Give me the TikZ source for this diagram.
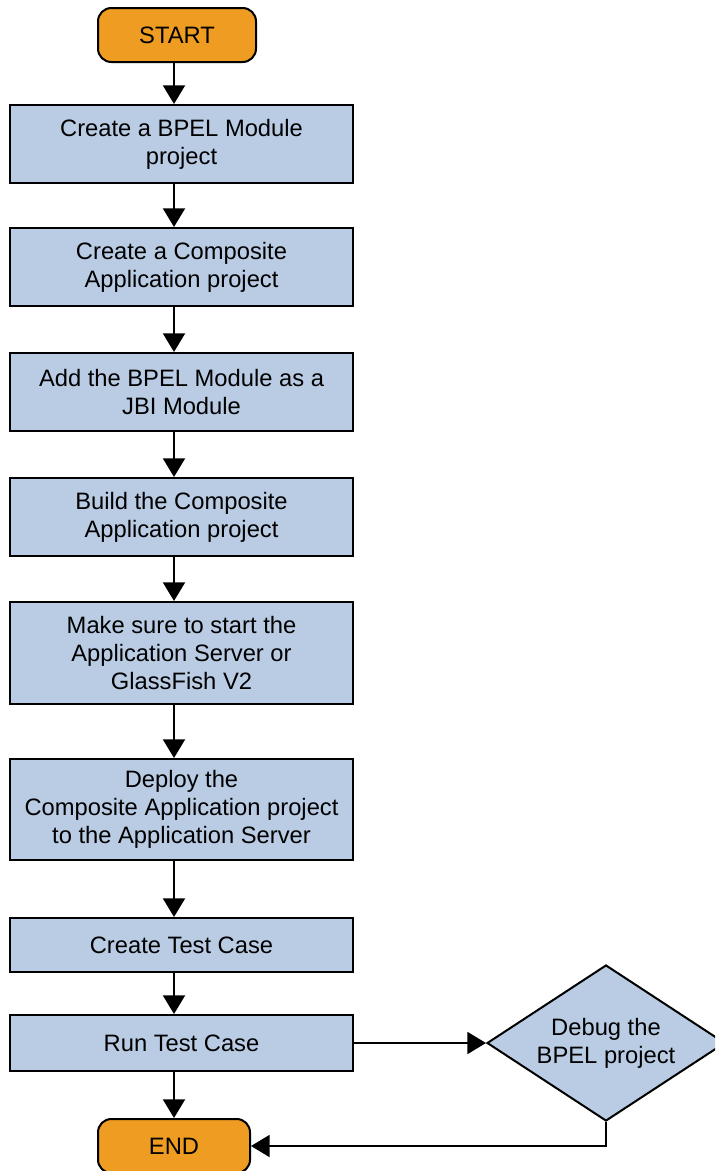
\documentclass[tikz,border=0pt]{standalone}
\usepackage{fontspec}
\setmainfont{Liberation Sans}
\usetikzlibrary{shapes.geometric,arrows.meta}
\definecolor{boxblue}{RGB}{185,204,228}
\definecolor{termorange}{RGB}{238,156,34}
\tikzset{
  stepbox/.style={draw=black, line width=1.5pt, fill=boxblue, minimum width=257.25pt, align=center, inner sep=2pt,
    font=\fontsize{17.8pt}{21pt}\selectfont},
  term/.style={draw=black, line width=1.5pt, fill=termorange, rounded corners=10pt, minimum height=40.5pt,
    font=\fontsize{17.8pt}{21pt}\selectfont},
  decide/.style={diamond, draw=black, line width=1.5pt, fill=boxblue, minimum width=178.5pt, minimum height=117pt,
    aspect=1.526, inner sep=0pt, align=center, font=\fontsize{17.8pt}{21pt}\selectfont},
  flow/.style={line width=1.5pt, -{Triangle[width=16.5pt,length=14pt]}},
}
\begin{document}
\begin{tikzpicture}[x=0.75pt,y=-0.75pt]
\useasboundingbox (0,0) rectangle (715,1171);
\clip (0,0) rectangle (715,1171);
\node[term, minimum width=118.5pt] (start) at (177,35) {START};
\node[stepbox, minimum height=58.5pt] (b1) at (181.5,144) {Create a BPEL Module\\project};
\node[stepbox, minimum height=58.5pt] (b2) at (181.5,267) {Create a Composite\\Application project};
\node[stepbox, minimum height=58.5pt] (b3) at (181.5,392) {Add the BPEL Module as a\\JBI Module};
\node[stepbox, minimum height=58.5pt] (b4) at (181.5,517) {Build the Composite\\Application project};
\node[stepbox, minimum height=76.5pt] (b5) at (181.5,653) {Make sure to start the\\Application Server or\\GlassFish V2};
\node[stepbox, minimum height=75.75pt] (b6) at (181.5,809.5) {Deploy the\\Composite Application project\\to the Application Server};
\node[stepbox, minimum height=40.5pt] (b7) at (181.5,945) {Create Test Case};
\node[stepbox, minimum height=42pt] (b8) at (181.5,1043) {Run Test Case};
\node[term, minimum width=114pt] (end) at (174,1146) {END};
\node[decide] (dbg) at (606,1043) {Debug the\\BPEL project};
\coordinate (ax) at (174,0);
\coordinate (corner) at (dbg.south |- end.east);
\draw[flow] (start.south -| ax) -- (b1.north -| ax);
\draw[flow] (b1.south -| ax) -- (b2.north -| ax);
\draw[flow] (b2.south -| ax) -- (b3.north -| ax);
\draw[flow] (b3.south -| ax) -- (b4.north -| ax);
\draw[flow] (b4.south -| ax) -- (b5.north -| ax);
\draw[flow] (b5.south -| ax) -- (b6.north -| ax);
\draw[flow] (b6.south -| ax) -- (b7.north -| ax);
\draw[flow] (b7.south -| ax) -- (b8.north -| ax);
\draw[flow] (b8.south -| ax) -- (end.north -| ax);
\draw[flow] (b8.east) -- (dbg.west);
\draw[flow] (dbg.south) -- (corner) -- (end.east);
\end{tikzpicture}
\end{document}
